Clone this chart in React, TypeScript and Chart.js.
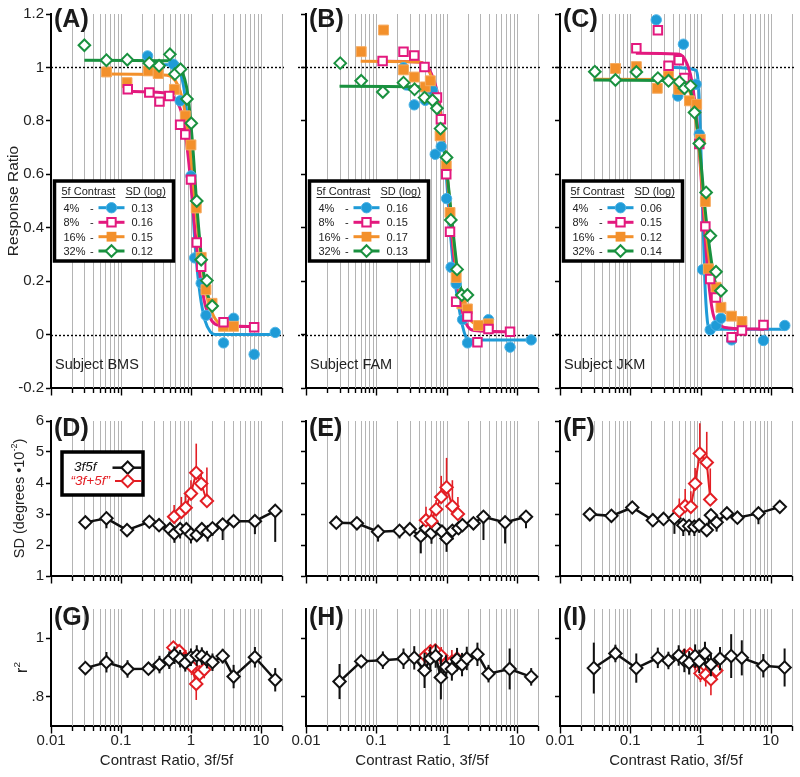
import React, { useEffect, useRef } from "react";
import { Chart, registerables } from "chart.js";

Chart.register(...registerables);

const FONT = "'Liberation Sans', Arial, Helvetica, sans-serif";

// ---------- colours ----------
const BLUE = "#1f9bd7";
const PINK = "#e3197e";
const ORANGE = "#f3902b";
const GREEN = "#19913f";
const BLACK = "#111111";
const RED = "#e31e24";
const GRID = "#b4b4b4";

// ---------- ticks / labels ----------
const X_DECADES = [0.01, 0.1, 1, 10];
const X_DECADE_LABELS = ["0.01", "0.1", "1", "10"];
const X_MULTS = [1, 2, 3, 4, 5, 6, 7, 8, 9];
const X_MIN = 0.01;
const X_MAX = 20;
const TOP_Y_TICKS = [-0.2, 0, 0.2, 0.4, 0.6, 0.8, 1, 1.2];
const TOP_Y_LABELS = ["-0.2", "0", "0.2", "0.4", "0.6", "0.8", "1", "1.2"];
const MID_Y_TICKS = [1, 2, 3, 4, 5, 6];
const MID_Y_LABELS = ["1", "2", "3", "4", "5", "6"];
const BOT_Y_TICKS = [0.8, 1];
const BOT_Y_LABELS = [".8", "1"];
const REF_LINES = [0, 1];

const CONTRASTS = ["4%", "8%", "16%", "32%"];
const SD_A = ["0.13", "0.16", "0.15", "0.12"];
const SD_B = ["0.16", "0.15", "0.17", "0.13"];
const SD_C = ["0.06", "0.15", "0.12", "0.14"];
const SUBJECTS = ["Subject BMS", "Subject FAM", "Subject JKM"];
const LETTERS = [["(A)", "(B)", "(C)"], ["(D)", "(E)", "(F)"], ["(G)", "(H)", "(I)"]];
const MID_LEGEND = ["3f5f", "\u201c3f+5f\u201d"];

// ---------- Panel A data ----------
const a4x = [0.24, 0.56, 0.70, 1.0, 1.13, 1.4, 1.64, 2.92, 4.07, 8.0, 16];
const a4y = [1.043, 1.012, 0.875, 0.594, 0.287, 0.192, 0.072, -0.031, 0.061, -0.074, 0.008];
const a8x = [0.125, 0.254, 0.355, 0.49, 0.70, 0.83, 1.0, 1.21, 1.40, 2.92, 8.0];
const a8y = [0.918, 0.906, 0.872, 0.893, 0.785, 0.749, 0.58, 0.345, 0.254, 0.046, 0.027];
const a16x = [0.062, 0.122, 0.246, 0.34, 0.58, 0.83, 1.0, 1.19, 1.40, 1.64, 2.0, 2.92, 4.07];
const a16y = [0.983, 0.943, 0.987, 0.977, 0.918, 0.819, 0.71, 0.474, 0.289, 0.168, 0.117, 0.031, 0.031];
const a32x = [0.030, 0.062, 0.123, 0.254, 0.35, 0.50, 0.59, 0.71, 0.877, 1.01, 1.21, 1.40, 1.69, 2.01];
const a32y = [1.083, 1.027, 1.029, 1.016, 1.006, 1.049, 0.975, 0.993, 0.882, 0.791, 0.50, 0.28, 0.202, 0.107];
const aFit4x = [0.24, 0.5, 0.7, 0.85, 1.0, 1.15, 1.35, 1.6, 1.9, 2.2, 16];
const aFit4y = [1.01, 1.01, 0.98, 0.86, 0.60, 0.33, 0.15, 0.05, 0.01, 0.0, 0.0];
const aFit8x = [0.12, 0.4, 0.6, 0.75, 0.9, 1.0, 1.15, 1.35, 1.6, 2.0, 2.5, 8];
const aFit8y = [0.91, 0.905, 0.88, 0.82, 0.68, 0.56, 0.38, 0.22, 0.11, 0.05, 0.035, 0.03];
const aFit16x = [0.06, 0.4, 0.6, 0.8, 1.0, 1.2, 1.4, 1.7, 2.1, 2.8, 4.0];
const aFit16y = [0.975, 0.972, 0.95, 0.85, 0.66, 0.44, 0.28, 0.14, 0.07, 0.035, 0.03];
const aFit32x = [0.03, 0.5, 0.7, 0.9, 1.05, 1.2, 1.4, 1.7, 2.0];
const aFit32y = [1.027, 1.025, 1.0, 0.9, 0.72, 0.5, 0.3, 0.16, 0.1];

// ---------- Panel B data ----------
const b4x = [0.244, 0.347, 0.497, 0.63, 0.69, 0.84, 1.0, 1.16, 1.37, 1.69, 1.99, 3.95, 8.0, 16];
const b4y = [0.999, 0.86, 0.877, 0.915, 0.675, 0.704, 0.509, 0.252, 0.19, 0.056, -0.031, 0.056, -0.047, -0.02];
const b8x = [0.123, 0.244, 0.347, 0.486, 0.73, 0.83, 0.99, 1.12, 1.37, 1.98, 2.75, 3.95, 8.0];
const b8y = [1.024, 1.059, 1.045, 1.002, 0.887, 0.806, 0.60, 0.385, 0.123, 0.068, -0.029, 0.021, 0.011];
const b16x = [0.061, 0.127, 0.244, 0.347, 0.497, 0.587, 0.81, 0.99, 1.12, 1.37, 1.65, 1.98, 2.84, 3.95];
const b16y = [1.059, 1.14, 0.991, 0.964, 0.927, 0.95, 0.744, 0.632, 0.457, 0.214, 0.115, 0.096, 0.034, 0.04];
const b32x = [0.0307, 0.061, 0.124, 0.244, 0.35, 0.486, 0.63, 0.73, 0.82, 1.0, 1.15, 1.41, 1.65, 1.98];
const b32y = [1.016, 0.95, 0.908, 0.943, 0.918, 0.887, 0.877, 0.847, 0.771, 0.663, 0.429, 0.244, 0.148, 0.148];
const bFit4x = [0.25, 0.5, 0.7, 0.85, 1.0, 1.15, 1.35, 1.6, 1.9, 2.3, 16];
const bFit4y = [0.92, 0.91, 0.88, 0.78, 0.58, 0.36, 0.18, 0.06, -0.01, -0.02, -0.02];
const bFit8x = [0.12, 0.4, 0.6, 0.8, 1.0, 1.2, 1.4, 1.7, 2.0, 2.5, 8];
const bFit8y = [1.023, 1.02, 0.98, 0.86, 0.62, 0.36, 0.2, 0.08, 0.03, 0.015, 0.01];
const bFit16x = [0.06, 0.4, 0.6, 0.8, 1.0, 1.2, 1.4, 1.7, 2.1, 2.8, 4.0];
const bFit16y = [1.023, 1.02, 0.97, 0.84, 0.62, 0.4, 0.24, 0.12, 0.06, 0.035, 0.03];
const bFit32x = [0.03, 0.4, 0.6, 0.8, 1.0, 1.2, 1.4, 1.7, 2.0];
const bFit32y = [0.93, 0.928, 0.9, 0.8, 0.62, 0.42, 0.26, 0.14, 0.09];

// ---------- Panel C data ----------
const c4x = [0.234, 0.475, 0.57, 0.865, 0.96, 1.07, 1.37, 1.66, 1.95, 2.77, 7.85, 15.8];
const c4y = [1.178, 0.893, 1.087, 0.937, 0.75, 0.243, 0.018, 0.034, 0.061, -0.02, -0.022, 0.034];
const c8x = [0.122, 0.247, 0.35, 0.49, 0.59, 0.96, 1.17, 1.37, 1.66, 2.77, 3.88, 7.85];
const c8y = [1.072, 1.139, 1.006, 1.027, 0.96, 0.713, 0.405, 0.208, 0.139, -0.01, 0.015, 0.036];
const c16x = [0.0615, 0.122, 0.242, 0.35, 0.49, 0.695, 0.88, 0.99, 1.17, 1.29, 1.66, 1.95, 2.76, 3.88];
const c16y = [0.996, 1.003, 0.922, 0.968, 0.918, 0.875, 0.862, 0.731, 0.498, 0.246, 0.177, 0.102, 0.069, 0.049];
const c32x = [0.0313, 0.0615, 0.122, 0.247, 0.35, 0.50, 0.59, 0.72, 0.82, 0.96, 1.2, 1.38, 1.66, 1.95];
const c32y = [0.984, 0.953, 0.983, 0.96, 0.95, 0.946, 0.922, 0.931, 0.831, 0.715, 0.532, 0.37, 0.235, 0.164];
const cFit4x = [0.4, 0.85, 0.95, 1.05, 1.15, 1.25, 1.35, 16];
const cFit4y = [1.0, 0.99, 0.9, 0.55, 0.2, 0.05, 0.02, 0.02];
const cFit8x = [0.12, 0.45, 0.6, 0.75, 0.9, 1.0, 1.15, 1.3, 1.5, 1.8, 2.5, 8];
const cFit8y = [1.053, 1.05, 1.03, 0.95, 0.78, 0.62, 0.38, 0.2, 0.08, 0.04, 0.025, 0.02];
const cFit16x = [0.03, 0.45, 0.65, 0.8, 0.95, 1.1, 1.3, 1.6, 2.0, 2.8, 3.9];
const cFit16y = [0.956, 0.955, 0.93, 0.85, 0.7, 0.5, 0.3, 0.16, 0.1, 0.065, 0.05];
const cFit32x = [0.03, 0.5, 0.7, 0.85, 1.0, 1.15, 1.35, 1.6, 1.95];
const cFit32y = [0.953, 0.95, 0.92, 0.82, 0.66, 0.48, 0.32, 0.2, 0.15];

// ---------- Panel D/E/F (SD) ----------
const dBx = [0.031, 0.062, 0.122, 0.254, 0.35, 0.50, 0.58, 0.70, 0.86, 1.0, 1.21, 1.43, 1.73, 2.03, 2.84, 4.07, 8.2, 16];
const dBy = [2.73, 2.86, 2.48, 2.75, 2.64, 2.51, 2.37, 2.51, 2.51, 2.35, 2.32, 2.51, 2.41, 2.54, 2.66, 2.77, 2.77, 3.1];
const dBerr = [0.15, 0.32, 0.15, 0.15, 0.15, 0.2, 0.3, 0.3, 0.2, 0.3, 0.2, 0.15, 0.3, 0.25, 0.5, 0.15, 0.42, 1.0];
const dRx = [0.575, 0.73, 0.84, 1.0, 1.19, 1.40, 1.69];
const dRy = [2.91, 3.07, 3.20, 3.66, 4.33, 3.98, 3.42];
const dRerr = [0.38, 0.48, 0.4, 0.43, 0.94, 0.43, 1.08];

const eBx = [0.027, 0.053, 0.106, 0.214, 0.30, 0.43, 0.51, 0.61, 0.73, 0.86, 1.0, 1.21, 1.48, 1.68, 2.41, 3.35, 6.8, 13.5];
const eBy = [2.72, 2.70, 2.43, 2.46, 2.51, 2.29, 2.54, 2.39, 2.54, 2.43, 2.21, 2.46, 2.54, 2.64, 2.70, 2.91, 2.73, 2.91];
const eBerr = [0.15, 0.15, 0.32, 0.25, 0.2, 0.56, 0.2, 0.35, 0.2, 0.3, 0.43, 0.3, 0.2, 0.2, 0.2, 0.75, 0.68, 0.37];
const eRx = [0.51, 0.61, 0.71, 0.84, 1.0, 1.21, 1.45];
const eRy = [2.80, 2.77, 3.15, 3.55, 3.86, 3.25, 3.0];
const eRerr = [0.43, 0.35, 0.3, 0.68, 0.95, 0.84, 0.55];

const fBx = [0.0266, 0.054, 0.107, 0.21, 0.298, 0.426, 0.57, 0.69, 0.82, 0.96, 1.23, 1.41, 1.70, 2.38, 3.36, 6.7, 13.5];
const fBy = [2.99, 2.94, 3.21, 2.80, 2.84, 2.86, 2.64, 2.61, 2.59, 2.64, 2.48, 2.96, 2.73, 3.02, 2.88, 3.02, 3.23];
const fBerr = [0.15, 0.2, 0.15, 0.2, 0.15, 0.5, 0.35, 0.3, 0.3, 0.25, 0.2, 0.2, 0.3, 0.2, 0.2, 0.35, 0.15];
const fRx = [0.50, 0.606, 0.73, 0.84, 0.98, 1.23, 1.38];
const fRy = [3.10, 3.26, 3.23, 3.98, 4.95, 4.66, 3.47];
const fRerr = [0.4, 0.55, 0.5, 0.5, 0.98, 0.99, 1.0];

// ---------- Panel G/H/I (r^2) ----------
const gBx = [0.031, 0.062, 0.124, 0.247, 0.355, 0.49, 0.58, 0.70, 0.83, 1.0, 1.21, 1.43, 1.69, 2.03, 2.84, 4.07, 8.2, 16];
const gBy = [0.898, 0.918, 0.895, 0.896, 0.91, 0.925, 0.942, 0.93, 0.916, 0.935, 0.941, 0.939, 0.927, 0.918, 0.939, 0.869, 0.935, 0.858];
const gBerr = [0.02, 0.035, 0.03, 0.02, 0.03, 0.03, 0.03, 0.03, 0.03, 0.03, 0.035, 0.03, 0.03, 0.03, 0.025, 0.04, 0.035, 0.04];
const gRx = [0.56, 0.68, 0.84, 1.02, 1.19, 1.33, 1.55];
const gRy = [0.968, 0.956, 0.93, 0.904, 0.844, 0.878, 0.893];
const gRerr = [0.02, 0.02, 0.03, 0.03, 0.055, 0.03, 0.03];

const hBx = [0.030, 0.061, 0.124, 0.244, 0.347, 0.486, 0.585, 0.70, 0.83, 0.98, 1.19, 1.41, 1.66, 1.94, 2.75, 3.95, 7.9, 16];
const hBy = [0.852, 0.921, 0.925, 0.93, 0.933, 0.89, 0.93, 0.939, 0.866, 0.902, 0.895, 0.927, 0.91, 0.931, 0.945, 0.879, 0.895, 0.868];
const hBerr = [0.06, 0.02, 0.03, 0.035, 0.04, 0.06, 0.04, 0.04, 0.075, 0.04, 0.04, 0.04, 0.04, 0.04, 0.04, 0.03, 0.07, 0.03];
const hRx = [0.5, 0.59, 0.69, 0.84, 1.0, 1.19, 1.41];
const hRy = [0.94, 0.955, 0.958, 0.94, 0.915, 0.92, 0.93];
const hRerr = [0.02, 0.02, 0.02, 0.03, 0.03, 0.04, 0.03];

const iBx = [0.0303, 0.0615, 0.122, 0.247, 0.35, 0.49, 0.59, 0.69, 0.84, 0.96, 1.16, 1.41, 1.9, 2.74, 3.88, 7.85, 15.8];
const iBy = [0.898, 0.948, 0.898, 0.933, 0.924, 0.941, 0.924, 0.916, 0.939, 0.921, 0.948, 0.91, 0.93, 0.939, 0.933, 0.906, 0.90];
const iBerr = [0.087, 0.03, 0.05, 0.035, 0.03, 0.035, 0.04, 0.04, 0.04, 0.04, 0.04, 0.04, 0.04, 0.075, 0.06, 0.04, 0.065];
const iRx = [0.59, 0.71, 0.84, 1.0, 1.19, 1.41, 1.68];
const iRy = [0.94, 0.945, 0.92, 0.88, 0.875, 0.86, 0.89];
const iRerr = [0.02, 0.02, 0.03, 0.03, 0.04, 0.055, 0.03];

// ---------- geometry ----------
const PLOT_L = [51, 306, 560];
const PLOT_R = [282, 538, 793];
const PLOT_T = [14, 421, 609];
const PLOT_B = [388, 576, 726];
const CAN_L = [0, 284, 538];
const CAN_R = [300, 556, 800];
const CAN_T = [0, 396, 586];
const CAN_B = [412, 600, 777];

const X_TICKS: number[] = [];
X_DECADES.forEach((d) => X_MULTS.forEach((m) => { if (d * m <= X_MAX * 1.0001) X_TICKS.push(d * m); }));

const pts = (xs: number[], ys: number[]) => xs.map((x, i) => ({ x, y: ys[i] }));

function markerSet(xs: number[], ys: number[], kind: string) {
  const base: any = { data: pts(xs, ys), showLine: false, clip: false, pointHoverRadius: 0 };
  if (kind === "circle") return { ...base, pointStyle: "circle", pointRadius: 5.2, pointBackgroundColor: BLUE, pointBorderColor: "#4cb3e6", pointBorderWidth: 1, borderColor: BLUE };
  if (kind === "sqOpen") return { ...base, pointStyle: "rect", pointRadius: 6, pointBackgroundColor: "#fff", pointBorderColor: PINK, pointBorderWidth: 2, borderColor: PINK };
  if (kind === "sqFill") return { ...base, pointStyle: "rect", pointRadius: 7, pointBackgroundColor: ORANGE, pointBorderColor: "#f6aa5e", pointBorderWidth: 1, borderColor: ORANGE };
  return { ...base, pointStyle: "rectRot", pointRadius: 5.8, pointBackgroundColor: "#fff", pointBorderColor: GREEN, pointBorderWidth: 2, borderColor: GREEN };
}
function fitLine(xs: number[], ys: number[], color: string) {
  return { data: pts(xs, ys), showLine: true, borderColor: color, borderWidth: 3, pointRadius: 0, cubicInterpolationMode: "monotone", fill: false, clip: false };
}
function errSeries(xs: number[], ys: number[], err: number[], color: string, width: number, mode: string) {
  return {
    data: pts(xs, ys), showLine: true, borderColor: color, borderWidth: width, pointStyle: "rectRot", pointRadius: 6.2,
    pointBackgroundColor: "#fff", pointBorderColor: color, pointBorderWidth: 2, fill: false, clip: false,
    errUp: mode === "down" ? null : err, errDown: mode === "up" ? null : err, errWidth: color === RED ? 1.6 : 2,
  };
}
function topSets(p4: number[][], p8: number[][], p16: number[][], p32: number[][], f4: number[][], f8: number[][], f16: number[][], f32: number[][]) {
  return [
    markerSet(p32[0], p32[1], "diamond"), markerSet(p8[0], p8[1], "sqOpen"), markerSet(p16[0], p16[1], "sqFill"), markerSet(p4[0], p4[1], "circle"),
    fitLine(f32[0], f32[1], GREEN), fitLine(f16[0], f16[1], ORANGE), fitLine(f8[0], f8[1], PINK), fitLine(f4[0], f4[1], BLUE),
  ];
}

type PanelDef = { row: number; col: number; datasets: any[]; sd?: string[] };

const PANELS: PanelDef[] = [
  { row: 0, col: 0, sd: SD_A, datasets: topSets([a4x, a4y], [a8x, a8y], [a16x, a16y], [a32x, a32y], [aFit4x, aFit4y], [aFit8x, aFit8y], [aFit16x, aFit16y], [aFit32x, aFit32y]) },
  { row: 0, col: 1, sd: SD_B, datasets: topSets([b4x, b4y], [b8x, b8y], [b16x, b16y], [b32x, b32y], [bFit4x, bFit4y], [bFit8x, bFit8y], [bFit16x, bFit16y], [bFit32x, bFit32y]) },
  { row: 0, col: 2, sd: SD_C, datasets: topSets([c4x, c4y], [c8x, c8y], [c16x, c16y], [c32x, c32y], [cFit4x, cFit4y], [cFit8x, cFit8y], [cFit16x, cFit16y], [cFit32x, cFit32y]) },
  { row: 1, col: 0, datasets: [errSeries(dRx, dRy, dRerr, RED, 2, "up"), errSeries(dBx, dBy, dBerr, BLACK, 2.5, "down")] },
  { row: 1, col: 1, datasets: [errSeries(eRx, eRy, eRerr, RED, 2, "up"), errSeries(eBx, eBy, eBerr, BLACK, 2.5, "down")] },
  { row: 1, col: 2, datasets: [errSeries(fRx, fRy, fRerr, RED, 2, "up"), errSeries(fBx, fBy, fBerr, BLACK, 2.5, "down")] },
  { row: 2, col: 0, datasets: [errSeries(gBx, gBy, gBerr, BLACK, 2.5, "both"), errSeries(gRx, gRy, gRerr, RED, 2, "both")] },
  { row: 2, col: 1, datasets: [errSeries(hBx, hBy, hBerr, BLACK, 2.5, "both"), errSeries(hRx, hRy, hRerr, RED, 2, "both")] },
  { row: 2, col: 2, datasets: [errSeries(iBx, iBy, iBerr, BLACK, 2.5, "both"), errSeries(iRx, iRy, iRerr, RED, 2, "both")] },
];

// ---------- drawing helpers ----------
function drawMarker(ctx: CanvasRenderingContext2D, kind: string, x: number, y: number) {
  ctx.save();
  ctx.beginPath();
  if (kind === "circle") {
    ctx.arc(x, y, 5.2, 0, Math.PI * 2);
    ctx.fillStyle = BLUE; ctx.fill();
    ctx.strokeStyle = "#4cb3e6"; ctx.lineWidth = 1; ctx.stroke();
  } else if (kind === "sqOpen") {
    ctx.rect(x - 4.2, y - 4.2, 8.4, 8.4);
    ctx.fillStyle = "#fff"; ctx.fill();
    ctx.strokeStyle = PINK; ctx.lineWidth = 2; ctx.stroke();
  } else if (kind === "sqFill") {
    ctx.rect(x - 4.9, y - 4.9, 9.8, 9.8);
    ctx.fillStyle = ORANGE; ctx.fill();
  } else {
    const r = kind === "diamondBig" ? 6.2 : 5.8;
    ctx.moveTo(x - r, y); ctx.lineTo(x, y - r); ctx.lineTo(x + r, y); ctx.lineTo(x, y + r); ctx.closePath();
    ctx.fillStyle = "#fff"; ctx.fill();
    ctx.strokeStyle = kind === "diamondBig" ? BLACK : GREEN; ctx.lineWidth = 2; ctx.stroke();
  }
  ctx.restore();
}

function drawRotated(ctx: CanvasRenderingContext2D, x: number, y: number, parts: { t: string; sup?: boolean }[], size: number) {
  ctx.save();
  ctx.translate(x, y);
  ctx.rotate(-Math.PI / 2);
  ctx.fillStyle = "#222";
  ctx.textBaseline = "middle";
  const supSize = size * 0.62;
  let total = 0;
  parts.forEach((p) => { ctx.font = `${p.sup ? supSize : size}px ${FONT}`; total += ctx.measureText(p.t).width; });
  let cx = -total / 2;
  parts.forEach((p) => {
    ctx.font = `${p.sup ? supSize : size}px ${FONT}`;
    ctx.textAlign = "left";
    ctx.fillText(p.t, cx, p.sup ? -size * 0.33 : 0);
    cx += ctx.measureText(p.t).width;
  });
  ctx.restore();
}

function makeDecor(p: PanelDef) {
  const offX = CAN_L[p.col];
  const offY = CAN_T[p.row];
  return {
    id: "decor",
    beforeDatasetsDraw(chart: any) {
      const { ctx, chartArea: a } = chart;
      const x = chart.scales.x;
      const y = chart.scales.y;
      // vertical log grid lines
      ctx.save();
      ctx.strokeStyle = GRID;
      ctx.lineWidth = 1;
      X_TICKS.forEach((v) => {
        if (v <= X_MIN * 1.0001) return;
        const px = Math.round(x.getPixelForValue(v)) + 0.5;
        ctx.beginPath();
        ctx.moveTo(px, a.top);
        ctx.lineTo(px, a.bottom);
        ctx.stroke();
      });
      ctx.restore();
      if (p.row !== 0) return;
      ctx.save();
      ctx.strokeStyle = "#000";
      ctx.lineWidth = 1.4;
      ctx.setLineDash([2, 2]);
      REF_LINES.forEach((v) => {
        const py = Math.round(y.getPixelForValue(v)) + 0.5;
        ctx.beginPath();
        ctx.moveTo(a.left - (p.col ? 8 : 0), py);
        ctx.lineTo(a.right + 2, py);
        ctx.stroke();
      });
      ctx.restore();
    },
    beforeDatasetDraw(chart: any, args: any) {
      const ds = chart.data.datasets[args.index];
      if (!ds.errUp && !ds.errDown) return;
      const { ctx } = chart;
      const yS = chart.scales.y;
      ctx.save();
      ctx.strokeStyle = ds.borderColor;
      ctx.lineWidth = ds.errWidth || 1.6;
      args.meta.data.forEach((el: any, i: number) => {
        const v = ds.data[i].y;
        const up = ds.errUp ? ds.errUp[i] : 0;
        const dn = ds.errDown ? ds.errDown[i] : 0;
        ctx.beginPath();
        ctx.moveTo(el.x, yS.getPixelForValue(v + up));
        ctx.lineTo(el.x, yS.getPixelForValue(v - dn));
        ctx.stroke();
      });
      ctx.restore();
    },
    afterDatasetsDraw(chart: any) {
      const { ctx, chartArea: a } = chart;
      // panel letter
      ctx.save();
      ctx.fillStyle = "#1a1a1a";
      ctx.font = `bold 25px ${FONT}`;
      ctx.textAlign = "left";
      ctx.textBaseline = "alphabetic";
      const base = p.row === 0 ? 13 : p.row === 1 ? 14.5 : 16;
      ctx.fillText(LETTERS[p.row][p.col], a.left + 3, a.top + base);
      ctx.restore();

      if (p.row === 0) {
        // subject
        ctx.save();
        ctx.fillStyle = "#222";
        ctx.font = `14.5px ${FONT}`;
        ctx.fillText(SUBJECTS[p.col], a.left + 4, a.top + 355);
        ctx.restore();
        // legend box
        const L = a.left + 3.5, T = a.top + 167, W = 119, H = 80;
        ctx.save();
        ctx.fillStyle = "#fff";
        ctx.fillRect(L, T, W, H);
        ctx.strokeStyle = "#000";
        ctx.lineWidth = 3.5;
        ctx.strokeRect(L, T, W, H);
        ctx.fillStyle = "#222";
        ctx.font = `11px ${FONT}`;
        ctx.textBaseline = "alphabetic";
        ctx.textAlign = "left";
        const h1 = "5f Contrast", h2 = "SD (log)";
        ctx.fillText(h1, L + 7, T + 13.5);
        ctx.fillText(h2, L + 71, T + 13.5);
        ctx.strokeStyle = "#222";
        ctx.lineWidth = 1;
        ctx.beginPath();
        ctx.moveTo(L + 7, T + 16.5); ctx.lineTo(L + 7 + ctx.measureText(h1).width, T + 16.5);
        ctx.moveTo(L + 71, T + 16.5); ctx.lineTo(L + 71 + ctx.measureText(h2).width, T + 16.5);
        ctx.stroke();
        const kinds = ["circle", "sqOpen", "sqFill", "diamond"];
        const cols = [BLUE, PINK, ORANGE, GREEN];
        const rowsY = [26.7, 41.3, 55.7, 70];
        for (let i = 0; i < 4; i++) {
          const cy = T + rowsY[i];
          ctx.fillStyle = "#222";
          ctx.fillText(CONTRASTS[i], L + 9, cy + 4);
          ctx.fillText("-", L + 35.5, cy + 4);
          ctx.fillText((p.sd as string[])[i], L + 77, cy + 4);
          ctx.strokeStyle = cols[i];
          ctx.lineWidth = 3;
          ctx.beginPath(); ctx.moveTo(L + 44, cy); ctx.lineTo(L + 70, cy); ctx.stroke();
          drawMarker(ctx, kinds[i], L + 57, cy);
        }
        ctx.restore();
      }

      if (p.row === 1 && p.col === 0) {
        const L = a.left + 11, T = a.top + 31, W = 81, H = 43;
        ctx.save();
        ctx.fillStyle = "#fff";
        ctx.fillRect(L, T, W, H);
        ctx.strokeStyle = "#000";
        ctx.lineWidth = 3.5;
        ctx.strokeRect(L, T, W, H);
        ctx.font = `italic 13.5px ${FONT}`;
        ctx.textBaseline = "middle";
        ctx.textAlign = "left";
        ctx.fillStyle = BLACK;
        ctx.fillText(MID_LEGEND[0], L + 12, T + 15.7);
        ctx.fillStyle = RED;
        ctx.fillText(MID_LEGEND[1], L + 8.5, T + 29);
        ctx.lineWidth = 2.5;
        ctx.strokeStyle = BLACK;
        ctx.beginPath(); ctx.moveTo(L + 50.5, T + 15.7); ctx.lineTo(L + 79.5, T + 15.7); ctx.stroke();
        ctx.strokeStyle = RED;
        ctx.lineWidth = 2;
        ctx.beginPath(); ctx.moveTo(L + 53, T + 29); ctx.lineTo(L + 79.5, T + 29); ctx.stroke();
        drawMarker(ctx, "diamondBig", L + 65.7, T + 15.7);
        ctx.save();
        ctx.beginPath();
        const x0 = L + 65.7, y0 = T + 29, r = 6.2;
        ctx.moveTo(x0 - r, y0); ctx.lineTo(x0, y0 - r); ctx.lineTo(x0 + r, y0); ctx.lineTo(x0, y0 + r); ctx.closePath();
        ctx.fillStyle = "#fff"; ctx.fill(); ctx.strokeStyle = RED; ctx.lineWidth = 2; ctx.stroke();
        ctx.restore();
        ctx.restore();
      }
    },
    afterDraw(chart: any) {
      const { ctx, chartArea: a } = chart;
      const x = chart.scales.x;
      // x tick marks (major longer)
      ctx.save();
      ctx.strokeStyle = "#000";
      ctx.lineWidth = 1.4;
      X_TICKS.forEach((v) => {
        const major = X_DECADES.some((d) => Math.abs(d - v) / d < 1e-6);
        const px = Math.round(x.getPixelForValue(v)) + 0.5;
        ctx.beginPath();
        ctx.moveTo(px, a.bottom);
        ctx.lineTo(px, a.bottom + (major ? 7.5 : 5));
        ctx.stroke();
      });
      ctx.restore();
      // y titles
      if (p.col === 0) {
        const cy = (a.top + a.bottom) / 2;
        if (p.row === 0) drawRotated(ctx, 14 - offX, cy, [{ t: "Response Ratio" }], 15.5);
        if (p.row === 1) drawRotated(ctx, 19.5 - offX, cy, [{ t: "SD (degrees \u202210" }, { t: "-2", sup: true }, { t: ")" }], 14.5);
        if (p.row === 2) drawRotated(ctx, 23 - offX, cy, [{ t: "r" }, { t: "2", sup: true }], 16);
      }
      // x title
      if (p.row === 2) {
        ctx.save();
        ctx.fillStyle = "#222";
        ctx.font = `15px ${FONT}`;
        ctx.textAlign = "center";
        ctx.textBaseline = "middle";
        ctx.fillText("Contrast Ratio, 3f/5f", (a.left + a.right) / 2, 761 - offY);
        ctx.restore();
      }
    },
  };
}

function buildConfig(p: PanelDef): any {
  const { row, col } = p;
  const yW = PLOT_L[col] - CAN_L[col];
  const xH = CAN_B[row] - PLOT_B[row];
  const padT = PLOT_T[row] - CAN_T[row];
  const padR = CAN_R[col] - PLOT_R[col];
  const yTicks = row === 0 ? TOP_Y_TICKS : row === 1 ? MID_Y_TICKS : BOT_Y_TICKS;
  const yLabels = row === 0 ? TOP_Y_LABELS : row === 1 ? MID_Y_LABELS : BOT_Y_LABELS;
  const yMin = row === 0 ? -0.2 : row === 1 ? 1 : 0.7;
  const yMax = row === 0 ? 1.2 : row === 1 ? 6 : 1.1;
  return {
    type: "line",
    data: { datasets: p.datasets },
    options: {
      animation: false,
      responsive: false,
      events: [],
      layout: { padding: { top: padT, right: padR, left: 0, bottom: 0 } },
      plugins: { legend: { display: false }, tooltip: { enabled: false } },
      scales: {
        x: {
          type: "logarithmic",
          min: X_MIN,
          max: X_MAX,
          afterBuildTicks: (s: any) => { s.ticks = X_TICKS.map((v) => ({ value: v })); },
          afterFit: (s: any) => { s.height = xH; },
          grid: { display: false, drawOnChartArea: false, drawTicks: false },
          border: { display: true, color: "#000", width: 2 },
          ticks: {
            display: row === 2,
            autoSkip: false,
            maxRotation: 0,
            minRotation: 0,
            padding: 6,
            color: "#222",
            font: { family: FONT, size: 15 },
            callback: (v: number) => {
              const i = X_DECADES.findIndex((d) => Math.abs(d - v) / d < 1e-6);
              return i >= 0 ? X_DECADE_LABELS[i] : "";
            },
          },
        },
        y: {
          type: "linear",
          min: yMin,
          max: yMax,
          afterBuildTicks: (s: any) => { s.ticks = yTicks.map((v) => ({ value: v })); },
          afterFit: (s: any) => { s.width = yW; },
          grid: { display: true, drawOnChartArea: false, drawTicks: true, tickLength: 5, tickColor: "#000", tickWidth: 1.5 },
          border: { display: true, color: "#000", width: 2 },
          ticks: {
            display: col === 0,
            autoSkip: false,
            padding: 2,
            color: "#222",
            font: { family: FONT, size: 15 },
            callback: (v: number) => {
              const i = yTicks.findIndex((t) => Math.abs(t - v) < 1e-6);
              return i >= 0 ? yLabels[i] : "";
            },
          },
        },
      },
    },
    plugins: [makeDecor(p)],
  };
}

function PanelChart({ p }: { p: PanelDef }) {
  const ref = useRef<HTMLCanvasElement>(null);
  useEffect(() => {
    const chart = new Chart(ref.current as HTMLCanvasElement, buildConfig(p));
    return () => chart.destroy();
  }, [p]);
  const w = CAN_R[p.col] - CAN_L[p.col];
  const h = CAN_B[p.row] - CAN_T[p.row];
  return (
    <canvas
      ref={ref}
      width={w}
      height={h}
      style={{ position: "absolute", left: CAN_L[p.col], top: CAN_T[p.row], width: w, height: h, display: "block" }}
    />
  );
}

export default function App() {
  return (
    <div style={{ position: "absolute", left: 0, top: 0, width: 800, height: 777, background: "#fff", overflow: "hidden" }}>
      {PANELS.map((p, i) => (
        <PanelChart key={i} p={p} />
      ))}
    </div>
  );
}
